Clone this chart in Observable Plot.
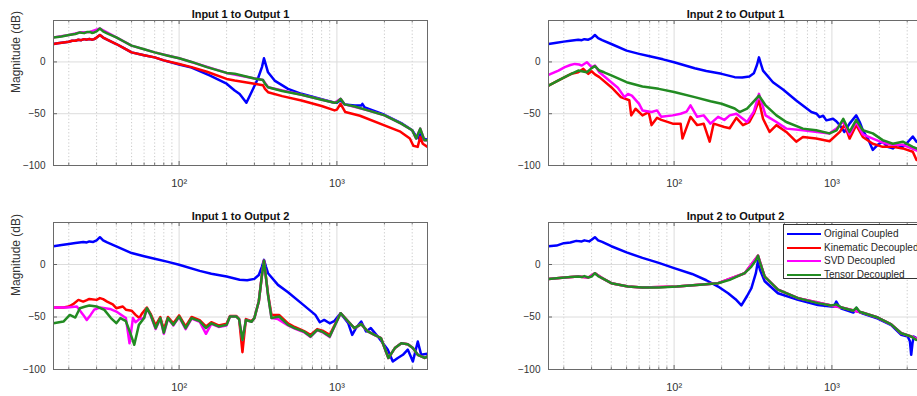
<!DOCTYPE html>
<html>
<head>
<meta charset="utf-8">
<script src="https://cdn.jsdelivr.net/npm/d3@7"></script>
<script src="https://cdn.jsdelivr.net/npm/@observablehq/plot@0.6"></script>
<style>
  body { margin: 0; background: #fff; }
  #fig { position: relative; width: 917px; height: 396px; overflow: hidden; background: #fff; font-family: "Liberation Sans", Arial, sans-serif; }
  .panel { position: absolute; width: 432px; }
  .panel svg { max-width: none !important; }
  #legend { position: absolute; left: 783px; top: 224px; width: 150px; height: 55px; border: 1px solid #333; background: #fff; box-sizing: border-box; }
  .lrow { position: absolute; left: 0; height: 12px; font-size: 10px; color: #262626; white-space: nowrap; }
  .lsw { position: absolute; left: 3px; width: 34px; height: 0; border-top: 2.5px solid; top: 5px; }
  .ltx { position: absolute; left: 40px; top: 0; line-height: 12px; }
</style>
</head>
<body>
<div id="fig"></div>
<script>
// ---- axis ticks / labels ----
const freqMajor = [100, 1000];
const freqMinor = [20, 30, 40, 50, 60, 70, 80, 90, 200, 300, 400, 500, 600, 700, 800, 900, 2000, 3000];
const dbTicks = [-100, -50, 0];
const seriesNames = ["Original Coupled", "Kinematic Decoupled", "SVD Decoupled", "Tensor Decoupled"];
const seriesColors = ["#0000ff", "#ff0000", "#ff00ff", "#228b22"];
const panelTitles = ["Input 1 to Output 1", "Input 2 to Output 1", "Input 1 to Output 2", "Input 2 to Output 2"];
const yLabel = "Magnitude (dB)";

// ---- Input 1 to Output 1 : [Hz, dB] ----
const orig11 = [[16,17.3],[17,18],[18,18.5],[19,19],[20,19.5],[21,20.5],[22,20.5],[23,21.4],[24,21],[25,22],[26,21.5],[27,22.2],[28,21.5],[29,22],[30,23.5],[31.5,26],[33,23.5],[35,21.5],[40,17.3],[45,13],[50,9.2],[60,6.5],[70,4.4],[80,1.5],[100,-2.5],[120,-5.5],[156,-13],[200,-21],[225,-27.6],[242,-31],[267,-39.4],[290,-28],[316,-16],[335,-5],[345,3.5],[355,-3],[366,-10],[403,-18],[490,-26],[596,-30.8],[759,-35],[966,-39.4],[1000,-39.5],[1055,-37],[1120,-41],[1300,-42],[1426,-42],[1450,-40.5],[1500,-44],[2000,-51],[2557,-59],[3000,-66],[3176,-72],[3300,-74],[3372,-68],[3500,-74],[3750,-75]];
const kin11 = [[16,17.3],[17,18],[18,18.5],[19,19],[20,19.5],[21,20.5],[22,20.5],[23,21.4],[24,21],[25,22],[26,21.5],[27,22.2],[28,21.5],[29,22],[30,23.5],[31.5,26],[33,23.5],[35,21.5],[40,17.3],[45,13],[50,9.2],[60,6.5],[70,4.4],[80,1.5],[100,-2],[120,-5],[150,-9.5],[200,-16.4],[225,-18],[300,-21],[340,-22.5],[350,-26],[366,-29.2],[450,-33],[596,-37.2],[800,-42.5],[966,-46.8],[1000,-46],[1055,-40.4],[1130,-48.4],[1400,-52],[2000,-61.3],[2500,-67],[2900,-74],[3050,-81],[3250,-82],[3372,-72.5],[3500,-79],[3750,-82]];
const ten11 = [[16,23.7],[18,24.5],[20,26],[22,27],[23.5,28.5],[25,27.8],[26,28.8],[27.2,29],[28,28],[29,28.5],[30,29.5],[31.5,32.3],[33,29.5],[35,27.5],[40,23.7],[45,19.5],[50,15.7],[60,12.3],[70,9.2],[85,6],[100,3.5],[120,0],[150,-5],[200,-10.6],[225,-11.5],[300,-16],[340,-17.5],[350,-21],[366,-24.4],[450,-28],[596,-31.7],[800,-36.5],[966,-39.4],[1000,-39],[1055,-35.6],[1120,-41],[1300,-43],[1570,-46.8],[2005,-51.6],[2557,-59.6],[3000,-66],[3176,-74],[3372,-64.4],[3588,-75.7],[3750,-75.7]];
const svd11 = [[16,23.7],[20,26],[23.5,28.5],[27.2,29],[31.5,32.3],[40,23.7],[50,15.7],[70,9.2],[100,3.5],[200,-10.6],[340,-17.5],[366,-24.4],[596,-31.7],[966,-39.4],[1055,-35.6],[1120,-41],[1570,-46.8],[2005,-51.6],[2557,-59.6],[3000,-66],[3176,-74],[3372,-64.4],[3588,-75.7],[3750,-75.7]];

// ---- Input 2 to Output 1 ----
const orig21 = [[16,17.3],[18,18.5],[20,19.6],[22,20.5],[24.7,21.5],[26,21],[27,22],[28.6,21.5],[30,23],[31.5,26],[33,23],[35,21],[40,17.3],[50,10.9],[60,7.8],[70,5.4],[85,2.5],[100,-0.3],[135,-6.1],[160,-8.8],[200,-11.5],[242,-14.7],[270,-15],[300,-14],[320,-11],[335,-3],[345,4.4],[355,-2],[366,-8.4],[423,-19.6],[490,-26.7],[594,-37.2],[741,-48.4],[800,-50],[835,-53.3],[880,-52],[922,-56.4],[1016,-54.8],[1060,-57],[1122,-61],[1200,-67.6],[1294,-59.6],[1426,-51.6],[1500,-58],[1570,-66],[1700,-75],[1816,-85],[1950,-80],[2098,-77],[2250,-82],[2431,-83.5],[2600,-80],[2812,-82],[3000,-78],[3255,-72],[3436,-77],[3750,-80]];
const kin21 = [[16,-22.8],[18.5,-17.9],[20.3,-14.7],[22.3,-11.5],[24.7,-9.9],[26.6,-6.7],[28.6,-11.5],[30,-9],[31.5,-12],[33.6,-14.7],[40,-24.4],[46,-34],[52,-37],[53.5,-51.6],[57,-45.2],[63,-51.6],[69,-48.4],[72,-61],[78,-54],[83,-56],[98,-59.6],[110,-59.6],[113,-74],[127,-53],[140,-61],[154,-59.6],[168,-77],[178,-59.6],[208,-62.8],[225,-64],[248,-54],[273,-61],[300,-58],[320,-50],[345,-37.2],[366,-54.8],[403,-67.6],[445,-61],[514,-67.6],[594,-77],[655,-72.5],[795,-74],[966,-76.6],[1122,-67.6],[1203,-60.6],[1294,-74],[1426,-61],[1570,-72.5],[1816,-79],[2098,-82],[2431,-82],[2812,-83.5],[3255,-86.7],[3436,-94.6],[3750,-95]];
const svd21 = [[16,-12.5],[18.5,-8.3],[20.3,-5.1],[22,-3],[23.5,-1.9],[25,-2.5],[26,-3.5],[28,-0.3],[30,-5],[31.5,-3.5],[33.6,-9.9],[40,-19.6],[44,-25],[48.5,-34],[51,-31],[54,-32.5],[60,-40.5],[63,-46.8],[72,-48.4],[78,-46.8],[83,-53],[98,-51.6],[110,-50],[120,-48],[127,-42],[140,-53],[154,-51.6],[170,-59.6],[190,-53],[208,-56],[225,-51.6],[248,-50],[290,-58],[320,-48],[345,-30.8],[380,-51.6],[445,-58],[514,-64.4],[655,-66],[966,-69],[1070,-64.4],[1180,-57],[1294,-70],[1426,-58],[1570,-70],[1816,-74],[2098,-78],[2431,-80],[2812,-80],[3255,-84],[3750,-88]];
const ten21 = [[16,-22.8],[18.5,-17.9],[21.3,-13],[24.7,-8.3],[26,-9],[28,-9.9],[30,-6],[31.5,-4],[33.6,-8.3],[36,-10],[40,-13],[50,-19.6],[63,-23.7],[80,-26],[100,-29],[135,-34],[170,-38],[200,-40.4],[242,-45],[260,-48.4],[290,-45],[320,-38],[345,-32.5],[380,-42],[445,-51.6],[514,-58],[655,-64.4],[795,-66],[966,-69],[1070,-66],[1180,-55],[1294,-67.6],[1426,-56],[1570,-66],[1816,-69],[2098,-75.5],[2431,-79],[2812,-77],[3255,-82],[3436,-83.5],[3750,-86]];

// ---- Input 1 to Output 2 ----
const orig12 = [[16,17.4],[18,18.5],[20,19.6],[22,20.5],[24.7,21.5],[26,21],[27,22],[28.6,21.5],[30,23],[31.5,26],[33,23],[35,21],[40,17.3],[50,10.9],[60,7.8],[70,5.4],[85,2.5],[100,-0.3],[135,-6.1],[160,-8.8],[200,-11.5],[242,-14.6],[270,-15],[300,-13.7],[320,-10],[335,-2],[345,4.4],[355,-2],[366,-8.3],[423,-19.4],[490,-26.4],[594,-36.8],[730,-48],[780,-55],[830,-52.8],[900,-56],[960,-54],[1055,-46.4],[1180,-56],[1250,-67],[1320,-60.6],[1426,-54.3],[1530,-63.8],[1640,-60.6],[1816,-68.6],[2098,-81],[2260,-92.4],[2431,-89],[2620,-86],[2812,-81],[3030,-92.4],[3255,-73.4],[3420,-86],[3750,-85]];
const kin12 = [[16,-41],[18.5,-41],[20,-40],[21.3,-37.8],[23,-33.7],[24.7,-35.3],[26,-34],[27,-32.8],[30,-33.7],[31.5,-32],[33,-33],[35,-35.3],[38,-38],[40,-41.6],[44,-40],[46,-43],[50,-44],[53,-48],[56,-51],[58,-47],[62.5,-41],[66,-47],[71,-58],[76,-50],[80,-62],[85,-50],[92,-56],[100,-48.5],[110,-59],[120,-50],[135,-53],[148,-59],[160,-55],[178,-58],[200,-56.5],[210,-49],[230,-49],[240,-52],[252,-83.5],[265,-52],[288,-54],[300,-51],[320,-35],[335,-10],[345,3.5],[355,-12],[366,-28],[385,-48],[430,-48],[490,-56],[540,-59.5],[620,-63.5],[680,-67],[750,-61.5],[810,-63],[900,-67],[1055,-46.4],[1180,-54.3],[1290,-60.6],[1426,-56.8],[1570,-63.8],[1730,-67],[1900,-70],[2120,-89],[2330,-79.6],[2560,-74.9],[2812,-76],[3030,-79.6],[3255,-86],[3600,-89],[3750,-87.6]];
const svd12 = [[16,-41],[19.5,-41],[22.5,-40],[24.7,-48],[26,-52.8],[27.5,-48],[29,-43],[31.5,-41],[36.5,-42.3],[40,-44.8],[46,-51],[48.5,-75],[51,-51],[53,-55],[56,-52],[60,-51],[62.5,-42],[66,-48.5],[71,-61.5],[76,-51.5],[80,-66],[85,-51.5],[92,-58],[100,-50],[110,-61.5],[120,-51.5],[135,-54.5],[148,-66],[160,-56.5],[178,-59.5],[200,-58],[210,-49.5],[230,-49.5],[240,-52],[252,-72],[265,-52.8],[288,-54.5],[300,-51],[320,-35],[335,-10],[345,3.5],[355,-12],[366,-29],[385,-51],[423,-52],[490,-58],[540,-61],[620,-64.5],[680,-69],[750,-62.5],[810,-64.5],[900,-69],[1055,-46.4],[1180,-54.3],[1290,-60.6],[1426,-56.8],[1570,-63.8],[1730,-67],[1900,-70],[2120,-89],[2330,-79.6],[2560,-74.9],[2812,-76],[3030,-79.6],[3255,-86],[3600,-89],[3750,-87.6]];
const ten12 = [[16,-55.9],[18.5,-54.3],[20.3,-48],[22,-50.5],[23.5,-41.6],[25.5,-40],[27,-39],[30,-40],[33.6,-43.2],[37,-51],[40,-55.9],[42.5,-51],[46,-54],[49,-65],[52,-76.5],[55.6,-57.5],[60,-51],[62.5,-41.6],[66,-48],[71,-60.6],[76,-51],[80,-65],[85,-51],[92,-57.5],[100,-49.5],[110,-60.6],[120,-51],[135,-54],[148,-60.6],[160,-56],[178,-59],[200,-57.5],[210,-49.5],[230,-49.5],[240,-52],[252,-72],[265,-52.8],[288,-54.5],[300,-51],[320,-35],[335,-10],[345,3.5],[355,-12],[366,-29],[385,-51],[430,-49.5],[490,-57.5],[540,-60.6],[620,-64],[680,-68.6],[750,-62.2],[810,-64],[900,-68.6],[1055,-46.4],[1180,-54.3],[1290,-60.6],[1426,-56.8],[1570,-63.8],[1730,-67],[1900,-70],[2120,-89],[2330,-79.6],[2560,-74.9],[2812,-76],[3030,-79.6],[3255,-86],[3600,-89],[3750,-87.6]];

// ---- Input 2 to Output 2 ----
const orig22 = [[16,17.4],[18,18],[20,20.3],[22,21],[24,22.5],[26,22],[27,23],[29,22],[30,23.5],[31.5,26],[33,23],[35,21.5],[40,17.4],[50,11.5],[63,6.3],[80,1.5],[100,-3.5],[130,-9],[160,-15],[190,-21],[220,-27.4],[245,-33],[267,-39],[290,-30],[309,-22.5],[330,-8],[340,3.6],[350,-5],[375,-16],[455,-27.4],[610,-33.7],[815,-38.5],[990,-40],[1030,-40],[1066,-35.3],[1100,-39],[1149,-42],[1368,-45.8],[1429,-41.3],[1480,-45],[1570,-46.7],[1954,-51.5],[2376,-57.8],[2750,-67],[3030,-68.7],[3120,-73],[3180,-86],[3240,-75],[3300,-68.7],[3420,-70],[3750,-72]];
const ten22 = [[16,-13.7],[18,-13],[20.3,-12.4],[22,-12],[24.7,-11.5],[26,-12],[27,-11],[28.6,-12.4],[30,-11.5],[31.5,-8.3],[33,-11],[35,-13],[40,-17.8],[51,-21],[63,-22],[80,-21.8],[104,-21],[146,-19.4],[190,-17.8],[225,-14.6],[280,-8.3],[309,-2],[330,4],[340,8.4],[350,2],[375,-11.5],[455,-24],[610,-32],[815,-36.8],[990,-39],[1066,-38],[1149,-41],[1368,-44],[1429,-41],[1500,-45],[1570,-46],[1954,-50.5],[2376,-57],[2750,-65.5],[3180,-68.6],[3420,-71.8],[3750,-73]];
const kin22 = [[16,-13.7],[20.3,-12.4],[24.7,-11.5],[28.6,-12.4],[31.5,-8.3],[35,-13],[40,-17.8],[51,-21],[63,-22],[104,-21],[190,-17.8],[280,-8.3],[340,8.4],[375,-11.5],[455,-24],[610,-32],[990,-39],[1149,-41],[1570,-46],[1954,-50.5],[2376,-57],[2750,-65.5],[3180,-68.6],[3750,-73]];
const svd22 = [[16,-13.7],[20.3,-12.4],[24.7,-11.5],[28.6,-12.4],[31.5,-8.3],[35,-13],[40,-17.8],[51,-21],[63,-22],[104,-21],[190,-17.8],[280,-8.3],[340,8.4],[375,-11.5],[455,-24],[610,-32],[990,-39],[1149,-41],[1570,-46],[1954,-50.5],[2376,-57],[2750,-65.5],[3180,-68.6],[3750,-73]];

// ---- layout ----
const panels = [
  {title: panelTitles[0], series: [orig11, kin11, svd11, ten11], left: 0,   top: 0,   plotH: 145, mb: 30, ylab: true},
  {title: panelTitles[1], series: [orig21, kin21, svd21, ten21], left: 495, top: 0,   plotH: 145, mb: 30, ylab: false},
  {title: panelTitles[2], series: [orig12, kin12, svd12, ten12], left: 0,   top: 202, plotH: 147, mb: 25, ylab: true},
  {title: panelTitles[3], series: [orig22, kin22, svd22, ten22], left: 495, top: 202, plotH: 147, mb: 25, ylab: false}
];

const plotW = 374;
const fig = document.getElementById("fig");

function panel(p) {
  const supers = {100: "10²", 1000: "10³"};
  return Plot.plot({
    width: 53 + plotW + 5,
    height: 20 + p.plotH + p.mb,
    marginLeft: 53, marginRight: 5, marginTop: 20, marginBottom: p.mb,
    x: {type: "log", domain: [16, 3750]},
    y: {domain: [-100, 40]},
    style: {fontFamily: "'Liberation Sans', Arial, sans-serif", fontSize: "10px", color: "#333", background: "#fff", overflow: "visible", maxWidth: "none"},
    marks: [
      Plot.ruleX(freqMinor, {stroke: "#bcbcbc", strokeWidth: 0.8, strokeDasharray: "1.2,2.2"}),
      Plot.ruleX(freqMajor, {stroke: "#dcdcdc", strokeWidth: 1}),
      Plot.ruleY(dbTicks, {stroke: "#dcdcdc", strokeWidth: 1}),
      ...p.series.map((s, i) => Plot.line(s, {x: d => d[0], y: d => d[1], stroke: seriesColors[i], strokeWidth: 2.5, clip: true, strokeLinejoin: "round"})),
      Plot.ruleX(freqMinor, {insetTop: p.plotH - 2.5, stroke: "#444", strokeWidth: 0.7}),
      Plot.ruleX(freqMinor, {insetBottom: p.plotH - 2.5, stroke: "#444", strokeWidth: 0.7}),
      Plot.ruleX(freqMajor, {insetTop: p.plotH - 4, stroke: "#444", strokeWidth: 0.8}),
      Plot.ruleX(freqMajor, {insetBottom: p.plotH - 4, stroke: "#444", strokeWidth: 0.8}),
      Plot.ruleY(dbTicks, {insetRight: plotW - 4, stroke: "#444", strokeWidth: 0.8}),
      Plot.frame({stroke: "#6a6a6a", strokeWidth: 1}),
      Plot.axisX({ticks: freqMajor, tickFormat: d => supers[d], tickSize: 0, tickPadding: 14, fontSize: 11, label: null}),
      Plot.axisY({ticks: dbTicks, tickSize: 0, tickPadding: 8, label: null}),
      Plot.text([p.title], {text: d => d, frameAnchor: "top", dy: -10, fontWeight: "bold", fontSize: 11, fill: "#111"}),
      p.ylab ? Plot.text([yLabel], {text: d => d, frameAnchor: "left", dx: -37, rotate: -90, fontSize: 12, fill: "#333"}) : null
    ]
  });
}

for (const p of panels) {
  const wrap = document.createElement("div");
  wrap.className = "panel";
  wrap.style.left = p.left + "px";
  wrap.style.top = p.top + "px";
  wrap.appendChild(panel(p));
  fig.appendChild(wrap);
}

// legend (inside the "Input 2 to Output 2" axes)
const legend = document.createElement("div");
legend.id = "legend";
seriesNames.forEach((name, i) => {
  const row = document.createElement("div");
  row.className = "lrow";
  row.style.top = (3 + i * 13.5) + "px";
  const sw = document.createElement("div");
  sw.className = "lsw";
  sw.style.borderTopColor = seriesColors[i];
  const tx = document.createElement("div");
  tx.className = "ltx";
  tx.textContent = name;
  row.appendChild(sw);
  row.appendChild(tx);
  legend.appendChild(row);
});
fig.appendChild(legend);
</script>
</body>
</html>
